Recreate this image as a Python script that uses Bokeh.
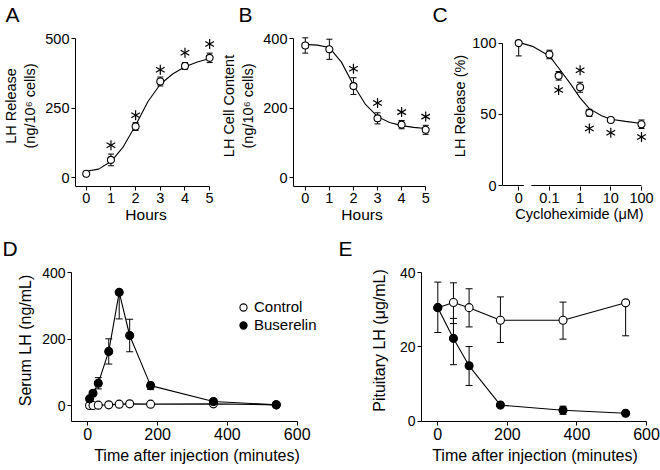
import math
from bokeh.plotting import figure
from bokeh.models import (ColumnDataSource, Whisker, TeeHead, FixedTicker,
                          Range1d, Legend, LegendItem)
from bokeh.layouts import row, column
from bokeh.embed import file_html
from bokeh.resources import INLINE

FONT = "Liberation Sans"

# ---------------- data ----------------
HOURS = [0, 1, 2, 3, 4, 5]
HOUR_TICKS = [0, 1, 2, 3, 4, 5]

A_RELEASE = [14, 64, 184, 346, 402, 431]
A_ERR = [5, 21, 14, 16, 12, 17]
A_STAR_HOURS = [1, 2, 3, 4, 5]
A_STAR_Y = [117, 225, 388, 449, 481]
A_FIT_X = [0, 0.5, 1, 1.5, 2, 2.5, 3, 3.5, 4, 4.5, 5]
A_FIT_Y = [23, 31, 58, 111, 189, 274, 336, 373, 399, 416, 429]
A_YTICKS = [0, 250, 500]

B_CONTENT = [381, 370, 264, 171, 153, 138]
B_ERR = [22, 29, 24, 16, 12, 13]
B_STAR_HOURS = [2, 3, 4, 5]
B_STAR_Y = [314, 215, 189, 176]
B_FIT_X = [0, 0.5, 1, 1.5, 2, 2.5, 3, 3.5, 4, 4.5, 5]
B_FIT_Y = [384, 382, 375, 333, 267, 211, 176, 159, 150, 145, 142]
B_YTICKS = [0, 200, 400]

# 0 uM is plotted at the 0.01 position of the log axis
C_TICKS = [0.01, 0.1, 1, 10, 100]
C_TICK_LABELS = ["0", "0.1", "1", "10", "100"]
C_CONC = [0.01, 0.1, 0.2, 1, 2, 10, 100]
C_RELEASE = [100, 92, 77, 69, 51, 46, 43]
C_ERR_UP = [0, 3, 3, 3.5, 2.5, 1, 3]
C_ERR_DN = [9, 3, 3, 3.5, 2.5, 1, 3]
C_STAR_CONC = [0.2, 1, 2, 10, 100]
C_STAR_Y = [67, 81, 40, 37, 34]
C_FIT_X = [0.01, 0.03, 0.1, 0.2, 0.5, 1, 2, 5, 10, 30, 100]
C_FIT_Y = [100.5, 97.5, 91, 82.5, 71, 61.5, 54, 49, 46.5, 45, 43.5]
C_YTICKS = [0, 50, 100]
C_BREAK = (0.0147, 0.0258)

D_TIME = [5, 15, 30, 60, 90, 120, 180, 360, 540]
D_CONTROL = [0, 0, 1, 2, 4, 5, 4, 5, 2]
D_BUS = [20, 37, 67, 163, 341, 211, 60, 12, 2]
D_BUS_UP = [0, 0, 17, 38, 0, 49, 10, 3, 0]
D_BUS_DN = [0, 0, 17, 38, 80, 49, 12, 3, 0]
D_XTICKS = [0, 200, 400, 600]
D_YTICKS = [0, 200, 400]

E_TIME = [0, 45, 90, 180, 360, 540]
E_CONTROL = [30.6, 32.0, 30.6, 27.2, 27.2, 31.9]
E_CONTROL_UP = [6.9, 5.3, 5.1, 6.3, 4.9, 0]
E_CONTROL_DN = [6.7, 5.7, 5.2, 6.0, 5.1, 8.9]
E_BUS = [30.6, 22.3, 14.9, 4.3, 2.9, 2.1]
E_BUS_UP = [0, 5.4, 5.2, 0, 1.1, 0]
E_BUS_DN = [0, 7.1, 5.3, 0, 1.1, 0]
E_XTICKS = [0, 200, 400, 600]
E_YTICKS = [0, 20, 40]


# ---------------- helpers ----------------
def lin_range(v0, p0, v1, p1, pa, pb):
    k = (v1 - v0) / (p1 - p0)
    return v0 + (pa - p0) * k, v0 + (pb - p0) * k


def make_fig(W, H, L, R, T, B, xr, yr, letter, letter_x, x_type="linear"):
    p = figure(width=W, height=H, x_range=Range1d(*xr), y_range=Range1d(*yr),
               x_axis_type=x_type, output_backend="svg", toolbar_location=None,
               title=letter, min_border_left=L, min_border_right=W - R,
               min_border_top=T, min_border_bottom=H - B)
    p.outline_line_color = None
    p.grid.visible = False
    p.background_fill_color = "white"
    p.border_fill_color = "white"
    p.title.align = "left"
    p.title.offset = letter_x - L
    p.title.standoff = 0
    p.title.text_font = FONT
    p.title.text_font_size = "21px"
    p.title.text_font_style = "normal"
    p.title.text_color = "black"
    for ax in p.axis:
        ax.axis_line_color = "black"
        ax.axis_line_width = 1
        ax.major_tick_line_color = "black"
        ax.major_tick_in = 0
        ax.major_tick_out = 4
        ax.minor_tick_line_color = None
        ax.major_label_text_font = FONT
        ax.major_label_text_color = "black"
        ax.major_label_standoff = 2
        ax.axis_label_text_font = FONT
        ax.axis_label_text_font_style = "normal"
        ax.axis_label_text_color = "black"
    return p


def errbars(p, xs, ys, up, dn, cap):
    src = ColumnDataSource(dict(x=xs, upper=[y + e for y, e in zip(ys, up)],
                                lower=[y - e for y, e in zip(ys, dn)]))
    p.add_layout(Whisker(source=src, base="x", upper="upper", lower="lower",
                         line_color="black", line_width=1,
                         upper_head=TeeHead(size=cap, line_color="black", line_width=1),
                         lower_head=TeeHead(size=cap, line_color="black", line_width=1)))


def stars(p, xs, ys, size=10):
    src = ColumnDataSource(dict(x=xs, y=ys))
    for ang in (math.pi / 2, math.pi / 6, -math.pi / 6):
        p.scatter("x", "y", source=src, marker="dash", size=size, angle=ang,
                  line_color="black", line_width=1.2)


def open_pts(p, xs, ys, size):
    return p.scatter(xs, ys, marker="circle", size=size, fill_color="white",
                     line_color="black", line_width=1.1)


def filled_pts(p, xs, ys, size):
    return p.scatter(xs, ys, marker="circle", size=size, fill_color="black",
                     line_color="black", line_width=1.1)


# ---------------- Panel A ----------------
W, H, L, R, T, B = 218, 232, 72, 216, 24, 189
xr = lin_range(0, 83, 5, 209, L, R)
yr = lin_range(0, 180, 500, 37.5, B, T)
pa = make_fig(W, H, L, R, T, B, xr, yr, "A", 2)
pa.xaxis.ticker = FixedTicker(ticks=HOUR_TICKS)
pa.yaxis.ticker = FixedTicker(ticks=A_YTICKS)
pa.xaxis.bounds = (xr[0], 5)
pa.yaxis.bounds = (yr[0], 500)
pa.xaxis.major_label_text_font_size = "14.5px"
pa.yaxis.major_label_text_font_size = "14.5px"
pa.yaxis.axis_label = "LH Release\n(ng/10\u2076 cells)"
pa.yaxis.axis_label_text_font_size = "14.5px"
pa.yaxis.axis_label_standoff = 4
pa.xaxis.axis_label = "Hours"
pa.xaxis.axis_label_text_font_size = "15.5px"
pa.xaxis.axis_label_standoff = 0
pa.line(A_FIT_X, A_FIT_Y, line_color="black", line_width=1.1)
errbars(pa, HOURS, A_RELEASE, A_ERR, A_ERR, 6)
open_pts(pa, HOURS, A_RELEASE, 7)
stars(pa, A_STAR_HOURS, A_STAR_Y)

# ---------------- Panel B ----------------
W, H, L, R, T, B = 214, 232, 69, 212, 24, 189
xr = lin_range(0, 81.3, 5, 207, L, R)
yr = lin_range(0, 180, 400, 37.7, B, T)
pb = make_fig(W, H, L, R, T, B, xr, yr, "B", 14)
pb.xaxis.ticker = FixedTicker(ticks=HOUR_TICKS)
pb.yaxis.ticker = FixedTicker(ticks=B_YTICKS)
pb.xaxis.bounds = (xr[0], 5)
pb.yaxis.bounds = (yr[0], 400)
pb.xaxis.major_label_text_font_size = "14.5px"
pb.yaxis.major_label_text_font_size = "14.5px"
pb.yaxis.axis_label = "LH Cell Content\n(ng/10\u2076 cells)"
pb.yaxis.axis_label_text_font_size = "14.5px"
pb.yaxis.axis_label_standoff = 4
pb.xaxis.axis_label = "Hours"
pb.xaxis.axis_label_text_font_size = "15.5px"
pb.xaxis.axis_label_standoff = 0
pb.line(B_FIT_X, B_FIT_Y, line_color="black", line_width=1.1)
errbars(pb, HOURS, B_CONTENT, B_ERR, B_ERR, 6)
open_pts(pb, HOURS, B_CONTENT, 7)
stars(pb, B_STAR_HOURS, B_STAR_Y)

# ---------------- Panel C ----------------
W, H, L, R, T, B = 228, 232, 70, 224, 24, 186
lx = lin_range(-2, 86.2, 2, 209, L, R)
xr = (10 ** lx[0], 10 ** lx[1])
yr = lin_range(0, 185, 100, 41.7, B, T)
pc = make_fig(W, H, L, R, T, B, xr, yr, "C", 0, x_type="log")
pc.xaxis.ticker = FixedTicker(ticks=C_TICKS)
pc.xaxis.major_label_overrides = {t: s for t, s in zip(C_TICKS, C_TICK_LABELS)}
pc.yaxis.ticker = FixedTicker(ticks=C_YTICKS)
pc.yaxis.bounds = (0, 100)
pc.xaxis.axis_line_color = None
pc.xaxis.major_label_text_font_size = "14.5px"
pc.yaxis.major_label_text_font_size = "14.5px"
pc.yaxis.axis_label = "LH Release (%)"
pc.yaxis.axis_label_text_font_size = "14.5px"
pc.yaxis.axis_label_standoff = 1
pc.xaxis.axis_label = "Cycloheximide (\u03bcM)"
pc.xaxis.axis_label_text_font_size = "14.5px"
pc.xaxis.axis_label_standoff = 0
pc.segment(x0=[xr[0], C_BREAK[1]], x1=[C_BREAK[0], 100], y0=[0, 0], y1=[0, 0],
           line_color="black", line_width=1)
pc.line(C_FIT_X, C_FIT_Y, line_color="black", line_width=1.1)
errbars(pc, C_CONC, C_RELEASE, C_ERR_UP, C_ERR_DN, 6)
open_pts(pc, C_CONC, C_RELEASE, 7)
stars(pc, C_STAR_CONC, C_STAR_Y)

# ---------------- Panel D ----------------
W, H, L, R, T, B = 330, 238, 71, 322, 27, 189
xr = lin_range(0, 87.3, 600, 296.7, L, R)
yr = lin_range(0, 173, 400, 40.3, B, T)
pd_ = make_fig(W, H, L, R, T, B, xr, yr, "D", 2)
pd_.xaxis.ticker = FixedTicker(ticks=D_XTICKS)
pd_.yaxis.ticker = FixedTicker(ticks=D_YTICKS)
pd_.xaxis.bounds = (xr[0], 600)
pd_.yaxis.bounds = (yr[0], 400)
pd_.xaxis.major_label_text_font_size = "16px"
pd_.yaxis.major_label_text_font_size = "14px"
pd_.yaxis.axis_label = "Serum LH (ng/mL)"
pd_.yaxis.axis_label_text_font_size = "16px"
pd_.yaxis.axis_label_standoff = 5
pd_.xaxis.axis_label = "Time after injection (minutes)"
pd_.xaxis.axis_label_text_font_size = "16px"
pd_.xaxis.axis_label_standoff = 4
pd_.line(D_TIME, D_CONTROL, line_color="black", line_width=1.1)
r_ctrl = open_pts(pd_, D_TIME, D_CONTROL, 8)
pd_.line(D_TIME, D_BUS, line_color="black", line_width=1.1)
errbars(pd_, D_TIME, D_BUS, D_BUS_UP, D_BUS_DN, 7)
r_bus = filled_pts(pd_, D_TIME, D_BUS, 8)
leg = Legend(items=[LegendItem(label="Control", renderers=[r_ctrl]),
                    LegendItem(label="Buserelin", renderers=[r_bus])],
             location=(233 - L, B - 101.7), border_line_color=None,
             background_fill_alpha=0, padding=0, margin=0, spacing=0,
             glyph_width=20, glyph_height=18, label_height=18, label_standoff=1,
             label_text_font=FONT, label_text_font_size="15px",
             label_text_color="black")
pd_.add_layout(leg)

# ---------------- Panel E ----------------
W, H, L, R, T, B = 330, 238, 91, 318, 27, 191
xr = lin_range(0, 107.3, 600, 316, L, R)
yr = lin_range(0, 190.5, 40, 40.5, B, T)
pe = make_fig(W, H, L, R, T, B, xr, yr, "E", 8)
pe.xaxis.ticker = FixedTicker(ticks=E_XTICKS)
pe.yaxis.ticker = FixedTicker(ticks=E_YTICKS)
pe.xaxis.bounds = (xr[0], 600)
pe.yaxis.bounds = (yr[0], 40)
pe.xaxis.major_label_text_font_size = "16px"
pe.yaxis.major_label_text_font_size = "14px"
pe.yaxis.axis_label = "Pituitary LH (\u03bcg/mL)"
pe.yaxis.axis_label_text_font_size = "16px"
pe.yaxis.axis_label_standoff = 9
pe.xaxis.axis_label = "Time after injection (minutes)"
pe.xaxis.axis_label_text_font_size = "16px"
pe.xaxis.axis_label_standoff = 4
pe.line(E_TIME, E_CONTROL, line_color="black", line_width=1.1)
errbars(pe, E_TIME, E_CONTROL, E_CONTROL_UP, E_CONTROL_DN, 7)
open_pts(pe, E_TIME, E_CONTROL, 8)
pe.line(E_TIME, E_BUS, line_color="black", line_width=1.1)
errbars(pe, E_TIME, E_BUS, E_BUS_UP, E_BUS_DN, 7)
filled_pts(pe, E_TIME, E_BUS, 8)

layout = column(row(pa, pb, pc), row(pd_, pe))
open("out.html", "w").write(file_html(layout, INLINE))
